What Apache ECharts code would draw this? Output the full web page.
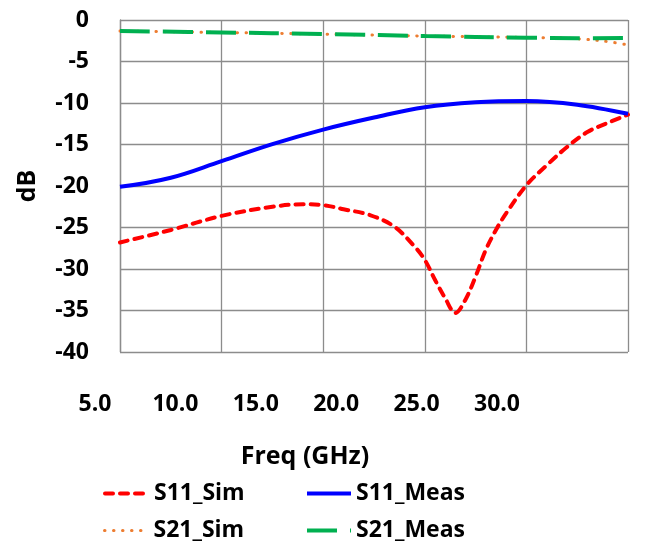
<!DOCTYPE html>
<html>
<head>
<meta charset="utf-8">
<script src="https://cdn.jsdelivr.net/npm/echarts@6/dist/echarts.min.js"></script>
<style>
  html, body { margin: 0; padding: 0; background: #fff; }
  #chart { width: 659px; height: 548px; }
</style>
</head>
<body>
<div id="chart"></div>
<script>
// Reflection (S11) and transmission (S21) versus frequency, simulated and measured
const s11SimFreq = [5, 7.5, 10, 12.5, 14, 15, 16, 17.3, 18.5, 19.5, 20, 20.5, 21, 21.5, 22, 22.5, 23, 23.5, 24, 25, 26, 27, 28, 29, 30];
const s11SimDb   = [-26.8, -25.3, -23.6, -22.5, -22.2, -22.3, -22.8, -23.5, -24.9, -27.3, -28.9, -31.3, -33.5, -35.3, -33.7, -30.9, -27.7, -25.3, -23.3, -19.9, -17.5, -15.3, -13.5, -12.4, -11.4];

const s11MeasFreq = [5, 7.5, 10, 12.5, 15, 17.5, 20, 22.5, 25, 27.5, 30];
const s11MeasDb   = [-20.1, -19.0, -17.0, -14.95, -13.2, -11.75, -10.5, -9.9, -9.75, -10.2, -11.3];

const s21SimFreq = [5, 10, 15, 20, 25, 27, 28, 29, 30];
const s21SimDb   = [-1.33, -1.5, -1.7, -1.93, -2.1, -2.2, -2.35, -2.6, -3.0];

const s21MeasFreq = [5, 10, 15, 20, 25, 27.5, 30];
const s21MeasDb   = [-1.33, -1.5, -1.69, -1.93, -2.13, -2.2, -2.15];

const seriesNames = ['S11_Sim', 'S11_Meas', 'S21_Sim', 'S21_Meas'];
const freqTicks = [5, 10, 15, 20, 25, 30];

const pairs = (xs, ys) => xs.map((x, i) => [x, ys[i]]);

const FONT = '"Open Sans", "DejaVu Sans", sans-serif';
const GRID_COLOR = '#8c8c8c';
const textBase = { fontFamily: FONT, fontWeight: 'bold', fontSize: 23, color: '#000' };

const chart = echarts.init(document.getElementById('chart'), null, { renderer: 'canvas' });

function legendAt(name, left, top, lineWidth) {
  return {
    data: [name],
    left: left, top: top,
    padding: 0,
    orient: 'horizontal',
    itemWidth: 44, itemHeight: 14, itemGap: 0,
    // line sample only, no marker in the middle
    itemStyle: { color: 'transparent', borderColor: 'transparent', borderWidth: 0, opacity: 0 },
    lineStyle: { width: lineWidth },
    textStyle: Object.assign({}, textBase),
    selectedMode: false
  };
}

chart.setOption({
  animation: false,
  backgroundColor: '#fff',
  grid: [
    { left: 120, right: 31, top: 20, bottom: 196, containLabel: false },
    // separate scale carrying the frequency labels and title below the plot
    { left: 95, right: 162, top: 380, height: 2, containLabel: false }
  ],
  xAxis: [
    {
      type: 'value', gridIndex: 0, min: 5, max: 30, interval: 5,
      axisLine: { show: false }, axisTick: { show: false }, axisLabel: { show: false },
      splitLine: { show: true, lineStyle: { color: GRID_COLOR, width: 1.3 } }
    },
    {
      type: 'value', gridIndex: 1, min: 5, max: 30, interval: 5,
      axisLine: { show: false }, axisTick: { show: false }, splitLine: { show: false },
      axisLabel: Object.assign({}, textBase, {
        margin: 11,
        formatter: v => freqTicks.includes(v) ? v.toFixed(1) : ''
      }),
      name: 'Freq (GHz)', nameLocation: 'middle', nameGap: 62,
      nameTextStyle: Object.assign({}, textBase, { fontSize: 25, padding: [0, 0, 0, 18] })
    }
  ],
  yAxis: [
    {
      type: 'value', gridIndex: 0, min: -40, max: 0, interval: 5,
      axisLine: { show: true, lineStyle: { color: GRID_COLOR, width: 1.3 } },
      axisTick: { show: false },
      axisLabel: Object.assign({}, textBase, { margin: 31 }),
      splitLine: { show: true, lineStyle: { color: GRID_COLOR, width: 1.3 } },
      name: 'dB', nameLocation: 'middle', nameGap: 80,
      nameTextStyle: Object.assign({}, textBase, { fontSize: 25 })
    },
    { type: 'value', gridIndex: 1, show: false, min: 0, max: 1 }
  ],
  legend: [
    legendAt('S11_Sim', 103, 482, 4),
    legendAt('S11_Meas', 305, 482, 4),
    legendAt('S21_Sim', 103, 519, 3),
    legendAt('S21_Meas', 305, 519, 4)
  ],
  series: [
    {
      name: seriesNames[0], type: 'line', data: pairs(s11SimFreq, s11SimDb),
      smooth: 0.35, symbol: 'none', color: '#ff0000',
      lineStyle: { color: '#ff0000', width: 4, type: [8, 7], cap: 'round' }
    },
    {
      name: seriesNames[1], type: 'line', data: pairs(s11MeasFreq, s11MeasDb),
      smooth: 0.4, symbol: 'none', color: '#0000ff',
      lineStyle: { color: '#0000ff', width: 4, type: 'solid' }
    },
    {
      name: seriesNames[2], type: 'line', data: pairs(s21SimFreq, s21SimDb),
      smooth: 0.4, symbol: 'none', color: '#ed7d31',
      lineStyle: { color: '#ed7d31', width: 3, type: [0.5, 8.5], cap: 'round' }
    },
    {
      name: seriesNames[3], type: 'line', data: pairs(s21MeasFreq, s21MeasDb),
      smooth: 0.4, symbol: 'none', color: '#00b050',
      lineStyle: { color: '#00b050', width: 4, type: [30, 13] }
    }
  ]
});
</script>
</body>
</html>
